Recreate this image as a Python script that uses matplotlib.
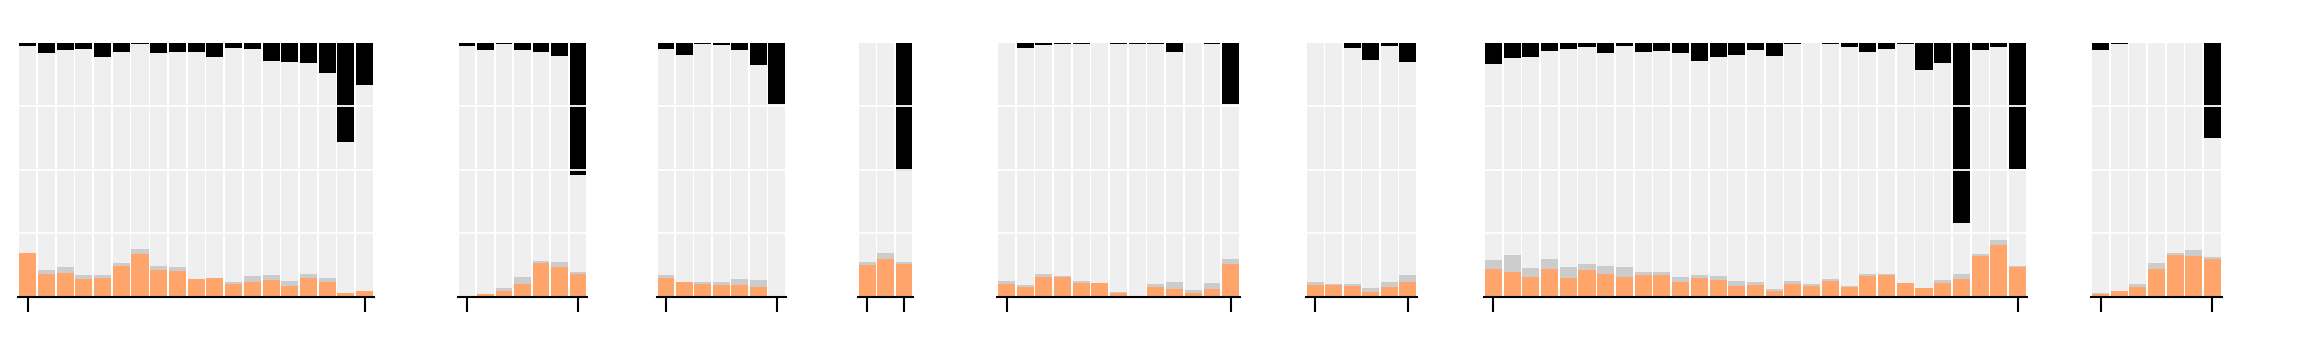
import numpy as np
import matplotlib
matplotlib.use("Agg")
import matplotlib.pyplot as plt

# fractions per bar, one list per panel: orange (bottom), grey (on orange), black (from top)
orange = [
    [0.171, 0.089, 0.092, 0.071, 0.072, 0.122, 0.169, 0.106, 0.101, 0.068, 0.073, 0.051, 0.058, 0.066, 0.042, 0.072, 0.059, 0.014, 0.021],
    [0.000, 0.009, 0.022, 0.051, 0.131, 0.117, 0.091],
    [0.072, 0.056, 0.050, 0.046, 0.046, 0.039, 0.003],
    [0.126, 0.150, 0.127],
    [0.050, 0.038, 0.079, 0.077, 0.054, 0.052, 0.016, 0.004, 0.037, 0.030, 0.016, 0.031, 0.130],
    [0.046, 0.046, 0.043, 0.018, 0.039, 0.058],
    [0.110, 0.097, 0.079, 0.110, 0.073, 0.106, 0.091, 0.077, 0.084, 0.085, 0.058, 0.075, 0.067, 0.043, 0.046,
     0.022, 0.051, 0.042, 0.062, 0.039, 0.081, 0.084, 0.054, 0.034, 0.054, 0.070, 0.160, 0.205, 0.115],
    [0.010, 0.022, 0.037, 0.108, 0.163, 0.161, 0.150],
]
grey = [
    [0.003, 0.018, 0.024, 0.013, 0.014, 0.012, 0.018, 0.014, 0.017, 0.001, 0.001, 0.008, 0.025, 0.020, 0.018, 0.017, 0.013, 0.002, 0.001],
    [0.000, 0.001, 0.013, 0.025, 0.011, 0.018, 0.005],
    [0.013, 0.003, 0.006, 0.013, 0.024, 0.026, 0.000],
    [0.009, 0.022, 0.009],
    [0.012, 0.008, 0.009, 0.003, 0.009, 0.003, 0.003, 0.000, 0.014, 0.028, 0.010, 0.022, 0.018],
    [0.012, 0.004, 0.007, 0.016, 0.020, 0.027],
    [0.034, 0.067, 0.035, 0.039, 0.044, 0.022, 0.031, 0.041, 0.012, 0.011, 0.018, 0.010, 0.013, 0.018, 0.012,
     0.008, 0.010, 0.009, 0.008, 0.004, 0.009, 0.004, 0.000, 0.000, 0.012, 0.019, 0.008, 0.018, 0.007],
    [0.004, 0.000, 0.014, 0.024, 0.009, 0.022, 0.007],
]
black = [
    [0.012, 0.039, 0.030, 0.026, 0.055, 0.035, 0.004, 0.042, 0.035, 0.038, 0.055, 0.020, 0.025, 0.073, 0.077, 0.080, 0.121, 0.390, 0.165],
    [0.012, 0.028, 0.005, 0.028, 0.038, 0.052, 0.522],
    [0.025, 0.047, 0.004, 0.008, 0.029, 0.089, 0.243],
    [0.000, 0.002, 0.505],
    [0.003, 0.021, 0.008, 0.005, 0.007, 0.000, 0.004, 0.005, 0.004, 0.035, 0.000, 0.004, 0.243],
    [0.000, 0.000, 0.022, 0.067, 0.012, 0.076],
    [0.085, 0.062, 0.058, 0.031, 0.024, 0.018, 0.041, 0.014, 0.035, 0.034, 0.039, 0.072, 0.055, 0.050, 0.030,
     0.051, 0.007, 0.002, 0.004, 0.016, 0.035, 0.025, 0.004, 0.109, 0.079, 0.708, 0.028, 0.016, 0.497],
    [0.029, 0.005, 0.000, 0.000, 0.000, 0.000, 0.374],
]

# panel left/right edges in pixels
panel_px = [(18.3, 374), (457.7, 587.3), (656.7, 786), (858.3, 913),
            (997.3, 1240), (1306, 1417), (1484, 2027), (2091.3, 2221.7)]

W, H = 2320, 358
fig = plt.figure(figsize=(W / 100, H / 100), dpi=100)

c_orange = '#ffa56b'
c_grey = '#cccccc'
c_light = '#efefef'
c_black = '#000000'

top_px, bot_px = 42.7, 296.7
for (x0, x1), o, g, b in zip(panel_px, orange, grey, black):
    ax = fig.add_axes([x0 / W, 1 - bot_px / H, (x1 - x0) / W, (bot_px - top_px) / H])
    o, g, b = np.array(o), np.array(g), np.array(b)
    n = len(o)
    x = np.arange(n)
    light = 1 - o - g - b
    w = 0.91
    ax.bar(x, o, width=w, color=c_orange, linewidth=0)
    ax.bar(x, g, bottom=o, width=w, color=c_grey, linewidth=0)
    ax.bar(x, light, bottom=o + g, width=w, color=c_light, linewidth=0)
    ax.bar(x, b, bottom=o + g + light, width=w, color=c_black, linewidth=0)

    ax.set_xlim(-0.5, n - 0.5)
    ax.set_ylim(0, 1)
    ax.set_yticks([0.25, 0.5, 0.75])
    ax.yaxis.grid(True, color='white', linewidth=1.3)
    ax.set_axisbelow(False)
    ax.tick_params(axis='y', left=False, labelleft=False)
    ax.set_xticks([0, n - 1])
    ax.tick_params(axis='x', length=10.5, width=1.5, color='black', labelbottom=False)
    for s in ['top', 'left', 'right']:
        ax.spines[s].set_visible(False)
    ax.spines['bottom'].set_linewidth(1.5)
    ax.spines['bottom'].set_color('black')

fig.savefig('out.png', dpi=100)
